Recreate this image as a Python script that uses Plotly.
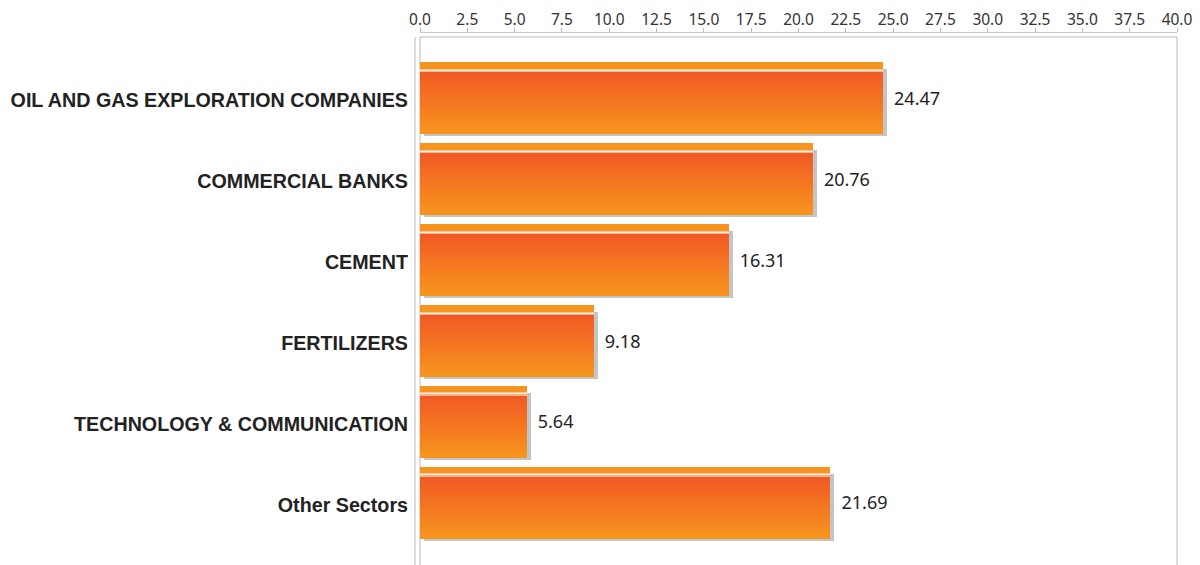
import plotly.graph_objects as go

categories = [
    "OIL AND GAS EXPLORATION COMPANIES",
    "COMMERCIAL BANKS",
    "CEMENT",
    "FERTILIZERS",
    "TECHNOLOGY & COMMUNICATION",
    "Other Sectors",
]
values = [24.47, 20.76, 16.31, 9.18, 5.64, 21.69]
x_ticks = [0, 2.5, 5, 7.5, 10, 12.5, 15, 17.5, 20, 22.5, 25, 27.5, 30, 32.5, 35, 37.5, 40]
x_tick_labels = [f"{t:.1f}" for t in x_ticks]

PX = 1 / 81.0          # category units per pixel
XPX = 40 / 757.0       # x units per pixel

def hex_to_rgb(h):
    h = h.lstrip("#")
    return tuple(int(h[i:i + 2], 16) for i in (0, 2, 4))

def lerp(c1, c2, t):
    a, b = hex_to_rgb(c1), hex_to_rgb(c2)
    return "rgb(%d,%d,%d)" % tuple(round(a[i] + (b[i] - a[i]) * t) for i in range(3))

fig = go.Figure()

# shadow
fig.add_trace(go.Bar(
    y=categories, x=values, base=4 * XPX, orientation="h",
    offset=-31 * PX, width=67 * PX,
    marker=dict(color="#C4C4C4", line=dict(width=0)),
    hoverinfo="skip", showlegend=False,
))

# top stripe
fig.add_trace(go.Bar(
    y=categories, x=values, orientation="h",
    offset=-38 * PX, width=7.5 * PX,
    marker=dict(color="#F7941E", line=dict(width=0)),
    hoverinfo="skip", showlegend=False,
))

# highlight lines
for i, col in enumerate(["#F9C4A0", "#FDEEE2", "#F8B58C"]):
    fig.add_trace(go.Bar(
        y=categories, x=values, orientation="h",
        offset=(-31 + i) * PX, width=1.3 * PX,
        marker=dict(color=col, line=dict(width=0)),
        hoverinfo="skip", showlegend=False,
    ))

# gradient body
top_px, bot_px = -28, 33
n = 24
step = (bot_px - top_px) / n
for k in range(n):
    t = k / (n - 1)
    fig.add_trace(go.Bar(
        y=categories, x=values, orientation="h",
        offset=(top_px + k * step) * PX, width=(step + 0.6) * PX,
        marker=dict(color=lerp("#F15A24", "#F7941E", t), line=dict(width=0)),
        hoverinfo="skip", showlegend=False,
    ))

# value labels
fig.add_trace(go.Scatter(
    y=categories, x=values, mode="markers+text",
    text=[f"{v:.2f}" for v in values], textposition="middle right",
    marker=dict(size=16, color="rgba(0,0,0,0)"),
    textfont=dict(family="Noto Sans", size=18, color="#222222"),
    hoverinfo="skip", showlegend=False, cliponaxis=False,
))

# page body has an 8px margin: shrink the figure so the plot lands where the reference has it
H = 557 - 24
fig.update_layout(
    width=1192, height=557,
    margin=dict(l=412, r=23, t=24, b=0, autoexpand=False),
    paper_bgcolor="white", plot_bgcolor="white",
    barmode="overlay", bargap=0,
    xaxis=dict(
        side="top", anchor="free", position=1, range=[0, 40],
        tickvals=x_ticks, ticktext=x_tick_labels,
        ticks="outside", ticklen=4, tickcolor="#BBBBBB",
        showline=True, linecolor="#C8C8C8", linewidth=1,
        showgrid=False, zeroline=False, automargin=False,
        ticklabelstandoff=-3,
        tickfont=dict(family="Noto Sans", size=15.5, color="#333333"),
    ),
    yaxis=dict(
        domain=[0, 1 - 5 / H], range=[5.741, -0.778],
        type="category", categoryorder="array", categoryarray=categories,
        showgrid=False, zeroline=False, showline=False, ticks="",
        ticklabelstandoff=11, automargin=False,
        tickfont=dict(family="Liberation Sans", size=19.7, color="#222222", weight="bold"),
    ),
    shapes=[
        dict(type="line", xref="x domain", yref="y domain", x0=0, x1=1, y0=1, y1=1,
             line=dict(color="#D0D0D0", width=1.5), layer="below"),
        dict(type="line", xref="x domain", yref="y domain", x0=0, x1=0, y0=0, y1=1,
             line=dict(color="#D0D0D0", width=1.5), layer="below"),
        dict(type="line", xref="x domain", yref="y domain", x0=1, x1=1, y0=0, y1=1,
             line=dict(color="#D0D0D0", width=1.5), layer="below"),
        dict(type="line", xref="x domain", yref="y domain", x0=-5 / 757, x1=-5 / 757, y0=0, y1=1,
             line=dict(color="#D0D0D0", width=1.5), layer="below"),
    ],
)

fig.write_html("out.html")
